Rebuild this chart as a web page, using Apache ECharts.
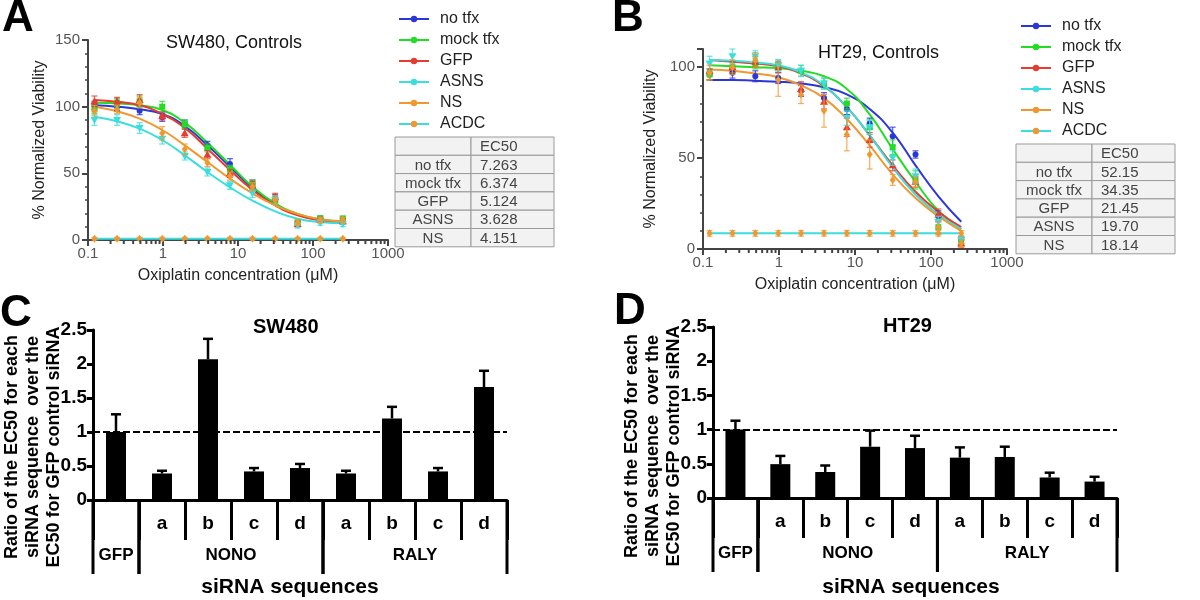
<!DOCTYPE html>
<html>
<head>
<meta charset="utf-8">
<script src="https://cdn.jsdelivr.net/npm/echarts@6/dist/echarts.min.js"></script>
<style>
html, body { margin: 0; padding: 0; background: #fff; }
#chart { width: 1200px; height: 600px; }
</style>
</head>
<body>
<div id="chart"></div>
<script>
// 浓度 (μM)
const conc = [0.122, 0.244, 0.488, 0.977, 1.95, 3.91, 7.81, 15.6, 31.3, 62.5, 125, 250];
const groupNames = ['no tfx', 'mock tfx', 'GFP', 'ASNS', 'NS', 'ACDC'];

// SW480 拟合曲线 / 数据点 / 误差
const swFit = [
    [101, 100, 98, 94.5, 85.5, 71, 55, 39, 27, 19, 15, 13.5],
    [103, 102.5, 101, 97.5, 88, 73, 56.5, 40, 27.5, 19.5, 15.5, 14],
    [105, 103.7, 101, 94.5, 84, 68.5, 52.5, 37.5, 26, 18.5, 15, 13.5],
    [92.5, 89, 83.5, 75, 63.5, 51, 39.5, 29.5, 21.5, 16, 13.5, 12.5],
    [100, 96.5, 91, 82.5, 71, 58.5, 46, 35, 26, 19.5, 15.5, 14],
    [1, 1, 1, 1, 1, 1, 1, 1, 1, 1, 1, 1]
];
const swPts = [
    [101, 100, 97, 92, 87, 71, 57, 42, 31, 12, 16, 15],
    [98, 103, 104, 100, 87, 69, 53, 42, 30, 13, 16, 16],
    [104, 104, 105, 93, 80, 64, 50, 41, 32, 12, 15, 14],
    [90, 90, 84, 76, 63, 51, 41, 35, 30, 11, 13, 12],
    [97, 98, 103, 80, 68, 58, 48, 40, 30, 13, 15, 15],
    [1, 1, 1, 1, 1, 1, 1, 1, 1, 1, 1, 1]
];
const swErr = [
    [3, 3, 3, 3, 3, 3, 4, 3, 3, 2, 2, 2],
    [3, 3, 4, 4, 3, 3, 3, 3, 3, 2, 2, 2],
    [4, 3, 4, 3, 3, 3, 3, 3, 3, 2, 2, 2],
    [4, 4, 4, 4, 3, 3, 3, 3, 3, 2, 2, 2],
    [4, 3, 4, 5, 4, 3, 3, 3, 3, 2, 2, 2],
    [1, 1, 1, 1, 1, 1, 1, 1, 1, 1, 1, 1]
];

// HT29 拟合曲线 / 数据点 / 误差
const htFit = [
    [93, 93, 92.5, 92, 91, 89, 85, 77, 64, 46, 29, 15],
    [101, 100.5, 100, 99.5, 98, 95, 88, 74, 55, 37, 21, 11],
    [104, 103, 102, 100.5, 96.5, 89.5, 78, 62.5, 46, 31.5, 20.5, 12],
    [104, 103.5, 102.5, 101, 97, 90, 78, 62.5, 45, 30, 19, 11],
    [98.7, 98, 96.5, 94.5, 90, 83, 71.5, 57, 41, 28, 18, 10],
    [8.6, 8.6, 8.6, 8.6, 8.6, 8.6, 8.6, 8.6, 8.6, 8.6, 8.6, 8.6]
];
const htPts = [
    [96, 97, 95, 94, 87, 83, 77, 69, 62, 52, 18, 5],
    [96, 100, 102, 101, 98, 91, 80, 67, 56, 38, 12, 4],
    [98, 100, 103, 100, 88, 81, 67, 60, 46, 37, 19, 3],
    [102, 106, 106, 101, 98, 91, 72, 67, 50, 40, 15, 5],
    [97, 100, 104, 93, 85, 76, 63, 52, 38, 37, 12, 3],
    [8.6, 8.6, 8.6, 8.6, 8.6, 8.6, 8.6, 8.6, 8.6, 8.6, 8.6, 8.6]
];
const htErr = [
    [3, 3, 3, 3, 3, 3, 3, 3, 5, 2, 3, 2],
    [3, 3, 3, 3, 3, 3, 3, 4, 4, 5, 4, 2],
    [5, 3, 3, 3, 4, 4, 5, 4, 3, 3, 3, 2],
    [4, 4, 3, 3, 3, 3, 4, 4, 4, 4, 3, 2],
    [4, 4, 4, 9, 5, 9, 9, 8, 3, 3, 3, 2],
    [1.5, 1.5, 1.5, 1.5, 1.5, 1.5, 1.5, 1.5, 1.5, 1.5, 1.5, 1.5]
];

// EC50 表格
const ec50Rows = ['no tfx', 'mock tfx', 'GFP', 'ASNS', 'NS'];
const swEc50 = ['7.263', '6.374', '5.124', '3.628', '4.151'];
const htEc50 = ['52.15', '34.35', '21.45', '19.70', '18.14'];

// 对数轴次刻度
const logMinorTicks = [0.2, 0.3, 0.4, 0.5, 0.6, 0.7, 0.8, 0.9, 2, 3, 4, 5, 6, 7, 8, 9,
    20, 30, 40, 50, 60, 70, 80, 90, 200, 300, 400, 500, 600, 700, 800, 900];

// siRNA 柱状图
const sirnaCats = ['GFP', 'NONO a', 'NONO b', 'NONO c', 'NONO d', 'RALY a', 'RALY b', 'RALY c', 'RALY d'];
const swRatio = [1.0, 0.39, 2.07, 0.42, 0.47, 0.39, 1.2, 0.42, 1.66];
const swRatioErr = [0.26, 0.04, 0.30, 0.05, 0.06, 0.04, 0.17, 0.05, 0.24];
const htRatio = [1.0, 0.495, 0.38, 0.75, 0.73, 0.59, 0.60, 0.30, 0.24];
const htRatioErr = [0.13, 0.12, 0.095, 0.235, 0.18, 0.15, 0.15, 0.07, 0.07];
const geneSpans = [[0, 0], [1, 4], [5, 8]];
const geneLabels = ['GFP', 'NONO', 'RALY'];
const ratioNameLines = ['Ratio of the EC50 for each', 'siRNA sequence  over the', 'EC50 for GFP control siRNA'];

const FONT = '"Liberation Sans", Arial, sans-serif';
const lineColors = ['#2b36d9', '#25dc25', '#e63b2e', '#3adede', '#f0982f', '#3adede'];
const markColors = ['#2b36d9', '#25dc25', '#e63b2e', '#3adede', '#f0982f', '#f0982f'];
const markShapes = ['circle', 'square', 'triangle', 'downTriangle', 'diamond', 'diamond'];

const chart = echarts.init(document.getElementById('chart'));

function markerShape(shape, x, y, color) {
    const s = 3;
    const st = { fill: color };
    if (shape === 'circle') return { type: 'circle', shape: { cx: x, cy: y, r: s }, style: st };
    if (shape === 'square') return { type: 'rect', shape: { x: x - s, y: y - s, width: 2 * s, height: 2 * s }, style: st };
    if (shape === 'triangle') return { type: 'polygon', shape: { points: [[x, y - s - 1], [x + s + 1, y + s], [x - s - 1, y + s]] }, style: st };
    if (shape === 'downTriangle') return { type: 'polygon', shape: { points: [[x, y + s + 1], [x + s + 1, y - s], [x - s - 1, y - s]] }, style: st };
    return { type: 'polygon', shape: { points: [[x, y - s - 1], [x + s, y], [x, y + s + 1], [x - s, y]] }, style: st };
}

function doseSeries(panel, fit, pts, err) {
    const list = [];
    groupNames.forEach(function (name, g) {
        list.push({
            name: name,
            type: 'line',
            xAxisIndex: panel,
            yAxisIndex: panel,
            data: conc.map(function (c, i) { return [c, fit[g][i]]; }),
            smooth: 0.5,
            symbol: 'circle',
            symbolSize: 5,
            showSymbol: false,
            color: markColors[g],
            lineStyle: { color: lineColors[g], width: 2 },
            silent: true,
            z: 3
        });
    });
    groupNames.forEach(function (name, g) {
        list.push({
            name: name + ' points',
            type: 'custom',
            xAxisIndex: panel,
            yAxisIndex: panel,
            data: conc.map(function (c, i) { return [c, pts[g][i], err[g][i]]; }),
            silent: true,
            z: 4,
            renderItem: function (params, api) {
                const x = api.value(0), y = api.value(1), e = api.value(2);
                const p = api.coord([x, y]);
                const hi = api.coord([x, y + e]);
                const lo = api.coord([x, Math.max(0, y - e)]);
                const col = markColors[g];
                const ls = { stroke: col, lineWidth: 1.2, opacity: 0.8 };
                return {
                    type: 'group',
                    children: [
                        { type: 'line', shape: { x1: p[0], y1: hi[1], x2: p[0], y2: lo[1] }, style: ls },
                        { type: 'line', shape: { x1: p[0] - 3, y1: hi[1], x2: p[0] + 3, y2: hi[1] }, style: ls },
                        { type: 'line', shape: { x1: p[0] - 3, y1: lo[1], x2: p[0] + 3, y2: lo[1] }, style: ls },
                        markerShape(markShapes[g], p[0], p[1], col)
                    ]
                };
            }
        });
    });
    list.push({
        name: 'minor ticks ' + panel,
        type: 'custom',
        xAxisIndex: panel,
        yAxisIndex: panel,
        data: logMinorTicks.map(function (v) { return [v, 0]; }),
        silent: true,
        z: 5,
        renderItem: function (params, api) {
            const p = api.coord([api.value(0), 0]);
            return { type: 'line', shape: { x1: p[0], y1: p[1], x2: p[0], y2: p[1] + 4 }, style: { stroke: '#444', lineWidth: 2 } };
        }
    });
    return list;
}

function ratioSeries(panel, values, errs) {
    return [
        {
            name: 'ratio ' + panel,
            type: 'bar',
            xAxisIndex: panel,
            yAxisIndex: panel,
            data: values,
            barWidth: 20,
            itemStyle: { color: '#000' },
            silent: true,
            markLine: {
                silent: true,
                symbol: 'none',
                label: { show: false },
                lineStyle: { color: '#000', width: 2, type: [7, 3] },
                data: [{ yAxis: 1 }]
            }
        },
        {
            name: 'ratio err ' + panel,
            type: 'custom',
            xAxisIndex: panel,
            yAxisIndex: panel,
            data: values.map(function (v, i) { return [i, v, errs[i]]; }),
            silent: true,
            z: 4,
            renderItem: function (params, api) {
                const p = api.coord([api.value(0), api.value(1)]);
                const hi = api.coord([api.value(0), api.value(1) + api.value(2)]);
                const ls = { stroke: '#000', lineWidth: 2.5 };
                return {
                    type: 'group',
                    children: [
                        { type: 'line', shape: { x1: p[0], y1: p[1], x2: p[0], y2: hi[1] }, style: ls },
                        { type: 'line', shape: { x1: p[0] - 5, y1: hi[1], x2: p[0] + 5, y2: hi[1] }, style: ls }
                    ]
                };
            }
        },
        {
            name: 'genes ' + panel,
            type: 'custom',
            xAxisIndex: panel,
            yAxisIndex: panel,
            data: geneSpans,
            silent: true,
            z: 4,
            renderItem: function (params, api) {
                const bw = api.size([1, 0])[0];
                const left = api.coord([api.value(0), 0])[0] - bw / 2;
                const right = api.coord([api.value(1), 0])[0] + bw / 2;
                const y0 = api.coord([0, 0])[1];
                const ls = { stroke: '#000', lineWidth: 3 };
                return {
                    type: 'group',
                    children: [
                        { type: 'line', shape: { x1: left, y1: y0, x2: left, y2: y0 + 74 }, style: ls },
                        { type: 'line', shape: { x1: right, y1: y0, x2: right, y2: y0 + 74 }, style: ls },
                        {
                            type: 'text',
                            style: {
                                x: (left + right) / 2, y: y0 + 55,
                                text: geneLabels[params.dataIndex],
                                textAlign: 'center', textVerticalAlign: 'middle',
                                align: 'center', verticalAlign: 'middle',
                                font: 'bold 17px ' + FONT, fill: '#000'
                            }
                        }
                    ]
                };
            }
        }
    ];
}

function doseXAxis(grid) {
    return {
        gridIndex: grid,
        type: 'log',
        logBase: 10,
        min: 0.1,
        max: 1000,
        name: 'Oxiplatin concentration (μM)',
        nameLocation: 'middle',
        nameGap: 28,
        nameTextStyle: { fontSize: 16, color: '#222', fontFamily: FONT },
        axisLine: { lineStyle: { color: '#444', width: 2 } },
        axisTick: { length: 6, lineStyle: { color: '#444', width: 2 } },
        axisLabel: {
            fontSize: 15, color: '#555', fontFamily: FONT, margin: 6,
            formatter: function (v) { return String(v); }
        },
        splitLine: { show: false }
    };
}

function doseYAxis(grid, max, gap) {
    return {
        gridIndex: grid,
        type: 'value',
        min: 0,
        max: max,
        interval: 50,
        name: '% Normalized Viability',
        nameLocation: 'middle',
        nameGap: gap,
        nameTextStyle: { fontSize: 16, color: '#222', fontFamily: FONT },
        axisLine: { show: true, lineStyle: { color: '#444', width: 2 } },
        axisTick: { show: true, length: 6, lineStyle: { color: '#444', width: 2 } },
        minorTick: { show: true, splitNumber: 5, length: 3, lineStyle: { color: '#444', width: 1.5 } },
        axisLabel: {
            fontSize: 15, color: '#555', fontFamily: FONT, margin: 8,
            formatter: function (v) { return v % 50 === 0 ? String(v) : ''; }
        },
        splitLine: { show: false }
    };
}

function ratioXAxis(grid) {
    return {
        gridIndex: grid,
        type: 'category',
        data: sirnaCats,
        axisLine: { lineStyle: { color: '#000', width: 3 } },
        axisTick: { show: true, interval: 0, length: 40, lineStyle: { color: '#000', width: 3 } },
        axisLabel: {
            interval: 0, margin: 14, fontSize: 19, fontWeight: 'bold', color: '#000', fontFamily: FONT,
            formatter: function (v) { return v.split(' ')[1] || ''; }
        },
        splitLine: { show: false }
    };
}

function ratioYAxis(grid) {
    return {
        gridIndex: grid,
        type: 'value',
        min: 0,
        max: 2.5,
        interval: 0.5,
        axisLine: { show: true, lineStyle: { color: '#000', width: 3 } },
        axisTick: { show: true, length: 6, lineStyle: { color: '#000', width: 3 } },
        axisLabel: { fontSize: 19, fontWeight: 'bold', color: '#000', fontFamily: FONT, margin: 6 },
        splitLine: { show: false }
    };
}

function ec50Table(x0, y0, values) {
    const w1 = 76, w2 = 83, rh = 18.3;
    const kids = [];
    const rows = [['', 'EC50']].concat(ec50Rows.map(function (r, i) { return [r, values[i]]; }));
    rows.forEach(function (row, r) {
        const y = y0 + r * rh;
        kids.push({ type: 'rect', shape: { x: x0, y: y, width: w1, height: rh }, style: { fill: '#f2f2f2', stroke: '#9a9a9a', lineWidth: 1 } });
        kids.push({ type: 'rect', shape: { x: x0 + w1, y: y, width: w2, height: rh }, style: { fill: '#f2f2f2', stroke: '#9a9a9a', lineWidth: 1 } });
        kids.push({ type: 'text', style: { x: x0 + w1 / 2, y: y + rh / 2 + 1, text: row[0], textAlign: 'center', textVerticalAlign: 'middle', align: 'center', verticalAlign: 'middle', font: '15px ' + FONT, fill: '#444' } });
        kids.push({ type: 'text', style: { x: x0 + w1 + 9, y: y + rh / 2 + 1, text: row[1], textAlign: 'left', textVerticalAlign: 'middle', align: 'left', verticalAlign: 'middle', font: '15px ' + FONT, fill: '#444' } });
    });
    return { type: 'group', children: kids, silent: true };
}

function sideText(x, y, text, font, rotate) {
    return {
        type: 'text',
        x: x,
        y: y,
        rotation: rotate ? Math.PI / 2 : 0,
        silent: true,
        style: {
            text: text, font: font, fill: '#000', lineHeight: 21,
            textAlign: 'center', textVerticalAlign: 'middle', align: 'center', verticalAlign: 'middle'
        }
    };
}

function legendAt(left, top) {
    return {
        orient: 'vertical',
        left: left,
        top: top,
        itemGap: 5,
        itemWidth: 30,
        itemHeight: 8,
        selectedMode: false,
        data: groupNames,
        textStyle: { fontSize: 16, color: '#222', fontFamily: FONT, padding: [0, 0, 0, 6] }
    };
}

const letter = function (t, left, top) {
    return { text: t, left: left, top: top, padding: 0, textStyle: { fontSize: 44, fontWeight: 'bold', color: '#000', fontFamily: FONT } };
};

chart.setOption({
    animation: false,
    backgroundColor: '#fff',
    title: [
        letter('A', 2, -3),
        letter('B', 612, -3),
        letter('C', 0, 292),
        letter('D', 614, 290),
        { text: 'SW480, Controls', left: 166, top: 34, padding: 0, textStyle: { fontSize: 18, fontWeight: 'normal', color: '#111', fontFamily: FONT } },
        { text: 'HT29, Controls', left: 818, top: 44, padding: 0, textStyle: { fontSize: 18, fontWeight: 'normal', color: '#111', fontFamily: FONT } },
        { text: 'SW480', left: 253, top: 317, padding: 0, textStyle: { fontSize: 20, fontWeight: 'bold', color: '#000', fontFamily: FONT } },
        { text: 'HT29', left: 883, top: 316, padding: 0, textStyle: { fontSize: 20, fontWeight: 'bold', color: '#000', fontFamily: FONT } }
    ],
    legend: [legendAt(393, 6), legendAt(1015, 13)],
    grid: [
        { left: 88, top: 40, width: 300, height: 200 },
        { left: 703, top: 49, width: 304, height: 200 },
        { left: 93, top: 330, width: 414, height: 170 },
        { left: 713, top: 327, width: 404, height: 171 }
    ],
    xAxis: [doseXAxis(0), doseXAxis(1), ratioXAxis(2), ratioXAxis(3)],
    yAxis: [doseYAxis(0, 150, 40), doseYAxis(1, 110, 44), ratioYAxis(2), ratioYAxis(3)],
    graphic: [
        ec50Table(395, 137, swEc50),
        ec50Table(1016, 144, htEc50),
        sideText(33, 447, ratioNameLines.join('\n'), 'bold 18px ' + FONT, true),
        sideText(653, 446, ratioNameLines.join('\n'), 'bold 18px ' + FONT, true),
        sideText(290, 587, 'siRNA sequences', 'bold 21px ' + FONT, false),
        sideText(911, 587, 'siRNA sequences', 'bold 21px ' + FONT, false)
    ],
    series: []
        .concat(doseSeries(0, swFit, swPts, swErr))
        .concat(doseSeries(1, htFit, htPts, htErr))
        .concat(ratioSeries(2, swRatio, swRatioErr))
        .concat(ratioSeries(3, htRatio, htRatioErr))
});

window.addEventListener('resize', function () {
    chart.resize();
});
</script>
</body>
</html>
